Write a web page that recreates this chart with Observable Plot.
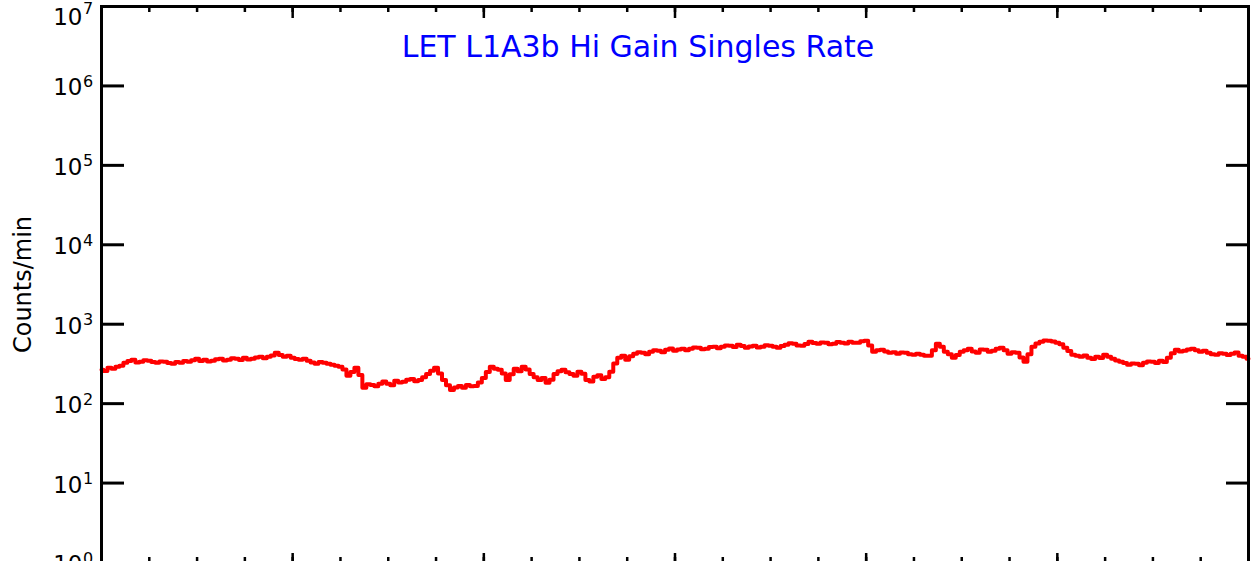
<!DOCTYPE html>
<html><head><meta charset="utf-8">
<script src="https://cdn.jsdelivr.net/npm/d3@7"></script>
<script src="https://cdn.jsdelivr.net/npm/@observablehq/plot@0.6"></script>
<style>body{margin:0;background:#fff;overflow:hidden;} svg{font-family:"DejaVu Sans",sans-serif;}</style>
</head><body><div id="chart"></div>
<script>
const titleText = "LET L1A3b Hi Gain Singles Rate";
const yLabelText = "Counts/min";
const hours = [0,0.5,1,1.5,2,2.5,3,3.5,4,4.5,5,5.5,6,6.5,7,7.5,8,8.5,9,9.5,10,10.5,11,11.5,12,12.5,13,13.5,14,14.5,15,15.5,16,16.5,17,17.5,18,18.5,19,19.5,
20,20.5,21,21.5,22,22.5,23,23.5,24,24.5,25,25.5,26,26.5,27,27.5,28,28.5,29,29.5,30,30.5,31,31.5,32,32.5,33,33.5,34,34.5,35,35.5,36,36.5,37,37.5,38,38.5,39,39.5,
40,40.5,41,41.5,42,42.5,43,43.5,44,44.5,45,45.5,46,46.5,47,47.5,48,48.5,49,49.5,50,50.5,51,51.5,52,52.5,53,53.5,54,54.5,55,55.5,56,56.5,57,57.5,58,58.5,59,59.5,
60,60.5,61,61.5,62,62.5,63,63.5,64,64.5,65,65.5,66,66.5,67,67.5,68,68.5,69,69.5,70,70.5,71,71.5,72,72.5,73,73.5,74,74.5,75,75.5,76,76.5,77,77.5,78,78.5,79,79.5,
80,80.5,81,81.5,82,82.5,83,83.5,84,84.5,85,85.5,86,86.5,87,87.5,88,88.5,89,89.5,90,90.5,91,91.5,92,92.5,93,93.5,94,94.5,95,95.5,96,96.5,97,97.5,98,98.5,99,99.5,
100,100.5,101,101.5,102,102.5,103,103.5,104,104.5,105,105.5,106,106.5,107,107.5,108,108.5,109,109.5,110,110.5,111,111.5,112,112.5,113,113.5,114,114.5,115,115.5,116,116.5,117,117.5,118,118.5,119,119.5,
120,120.5,121,121.5,122,122.5,123,123.5,124,124.5,125,125.5,126,126.5,127,127.5,128,128.5,129,129.5,130,130.5,131,131.5,132,132.5,133,133.5,134,134.5,135,135.5,136,136.5,137,137.5,138,138.5,139,139.5,
140,140.5,141,141.5,142,142.5,143,143.5,144];
const rates = [267,258,283,275,291,300,327,345,357,330,337,352,347,335,327,340,337,325,318,335,327,345,337,352,367,345,357,340,347,362,367,350,357,372,367,355,378,360,367,380,
389,372,389,405,437,410,389,400,378,365,357,368,347,330,318,335,327,318,309,300,291,270,224,250,283,230,158,175,172,165,178,190,178,170,194,185,188,200,205,192,
199,215,237,260,283,240,199,170,149,160,167,158,172,165,167,185,211,250,291,275,267,240,199,235,275,255,291,270,237,215,199,210,183,200,237,255,267,248,237,225,
252,238,199,190,218,228,205,215,252,320,378,400,357,395,425,445,437,420,450,470,464,445,477,495,464,480,491,470,491,510,506,485,491,515,521,500,521,540,536,515,
552,530,506,525,536,510,521,545,536,520,506,530,552,575,568,540,536,565,602,580,568,590,585,560,568,595,585,570,602,585,585,610,620,540,450,470,477,455,437,445,
425,440,437,420,413,425,413,400,401,470,568,520,450,420,378,410,450,470,491,455,437,480,477,450,464,490,506,470,425,445,437,380,337,420,521,570,602,625,620,605,
585,560,506,460,413,400,389,405,378,365,389,375,413,390,367,350,337,325,309,320,318,305,327,340,337,325,347,335,378,430,477,455,464,480,491,470,450,465,437,420,
413,430,425,410,425,440,401,390,367];
const yExponents = [0,1,2,3,4,5,6,7];
const majorHours = [0,24,48,72,96,120,144];
const minorHours = [0,6,12,18,24,30,36,42,48,54,60,66,72,78,84,90,96,102,108,114,120,126,132,138,144];

const data = hours.map((h, i) => ({hour: h, rate: rates[i]}));
const yTicks = yExponents.map(e => Math.pow(10, e));
const lowerExp = yExponents.filter(e => e < 7);
const topExp = yExponents.filter(e => e === 7);
const blank = () => "";

const chart = Plot.plot({
  width: 1252, height: 600,
  marginLeft: 101, marginRight: 4, marginTop: 6, marginBottom: 38,
  style: {fontFamily: '"DejaVu Sans", sans-serif', background: "#fff", overflow: "visible"},
  x: {domain: [0, 144]},
  y: {type: "log", domain: [1, 1e7]},
  marks: [
    Plot.line(data, {x: "hour", y: "rate", stroke: "#ff0000", strokeWidth: 4, curve: "step"}),
    Plot.frame({stroke: "#000", strokeWidth: 3}),
    Plot.axisY({anchor: "left", ticks: yTicks, tickSize: -23, tickFormat: blank, strokeWidth: 3, label: null}),
    Plot.axisY({anchor: "right", ticks: yTicks, tickSize: -23, tickFormat: blank, strokeWidth: 3, label: null}),
    Plot.axisX({anchor: "top", ticks: minorHours, tickSize: -5, tickFormat: blank, strokeWidth: 2.5, label: null}),
    Plot.axisX({anchor: "top", ticks: majorHours, tickSize: -11, tickFormat: blank, strokeWidth: 2.5, label: null}),
    Plot.axisX({anchor: "bottom", ticks: minorHours, tickSize: -5, tickFormat: blank, strokeWidth: 2.5, label: null}),
    Plot.axisX({anchor: "bottom", ticks: majorHours, tickSize: -9, tickFormat: blank, strokeWidth: 2.5, label: null}),
    Plot.text(lowerExp, {y: e => Math.pow(10, e), text: () => "10", frameAnchor: "left", dx: -19, textAnchor: "end", lineAnchor: "bottom", dy: 9.5, fontSize: 23, fill: "#000"}),
    Plot.text(lowerExp, {y: e => Math.pow(10, e), text: e => String(e), frameAnchor: "left", dx: -18.5, textAnchor: "start", lineAnchor: "bottom", dy: 1, fontSize: 16, fill: "#000"}),
    Plot.text(topExp, {y: e => Math.pow(10, e), text: () => "10", frameAnchor: "left", dx: -19, textAnchor: "end", lineAnchor: "bottom", dy: 18, fontSize: 23, fill: "#000"}),
    Plot.text(topExp, {y: e => Math.pow(10, e), text: e => String(e), frameAnchor: "left", dx: -18.5, textAnchor: "start", lineAnchor: "bottom", dy: 7, fontSize: 16, fill: "#000"}),
    Plot.text([titleText], {frameAnchor: "top", dx: -37, dy: 50.7, lineAnchor: "bottom", fill: "#0000ff", fontSize: 30}),
    Plot.text([yLabelText], {frameAnchor: "left", dx: -78, rotate: -90, textAnchor: "middle", fontSize: 24, fill: "#000"})
  ]
});
document.getElementById("chart").appendChild(chart);
</script>
</body></html>
